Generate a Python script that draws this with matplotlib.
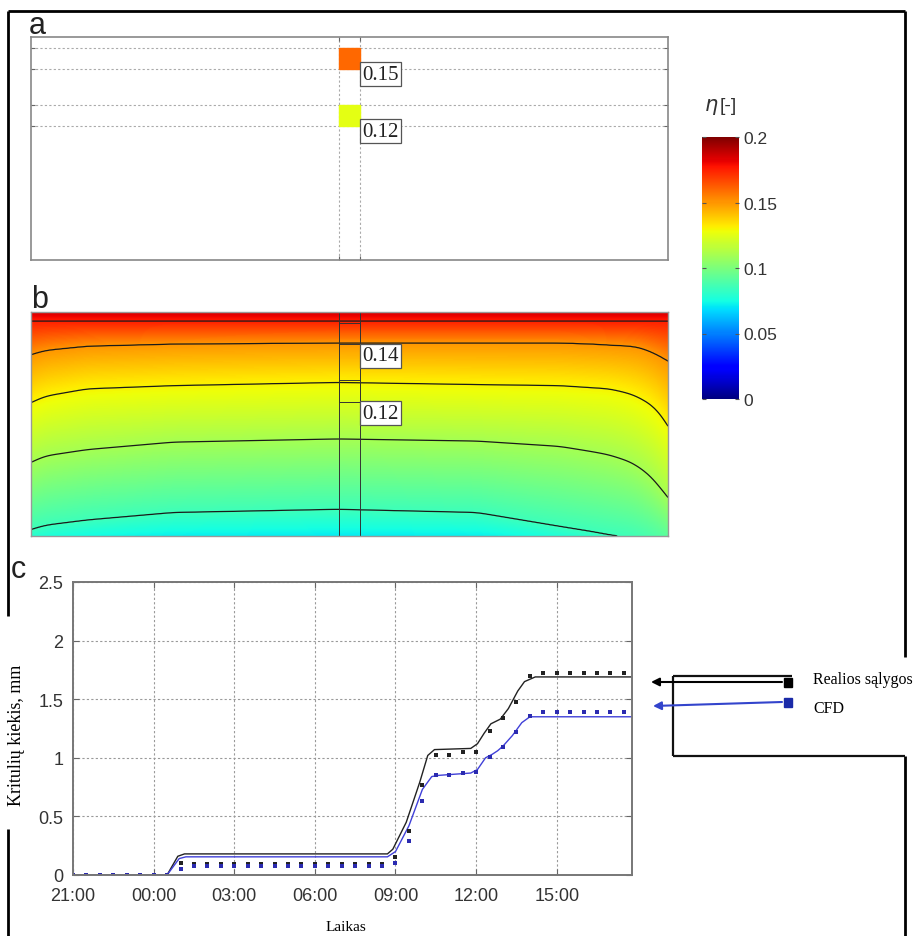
import numpy as np
import matplotlib
matplotlib.use('Agg')
import matplotlib.pyplot as plt
from matplotlib.patches import Rectangle
from matplotlib.colors import Normalize
from matplotlib.cm import ScalarMappable

# ---- panel a / b : probes ----
PROBE_X = (2.9, 3.1)
PROBE_Y = [(1.80, 2.00), (1.26, 1.46)]
PROBE_A_VALUES = [0.16, 0.125]
PROBE_A_LABELS = ['0.15', '0.12']
PROBE_B_LABELS = ['0.14', '0.12']

# ---- panel b : contour lines (height of each level at X_COLS) ----
X_COLS = [0, 0.13, 0.53, 1.34, 2.89, 4.2, 4.98, 5.29, 5.45, 5.66, 5.76, 5.83, 5.92, 6.0]
LEVELS = [0.175, 0.15, 0.13, 0.11, 0.085]
H_L1 = [2.015] * 14
H_L2 = [1.70, 1.74, 1.78, 1.80, 1.81, 1.81, 1.81, 1.80, 1.79, 1.78, 1.76, 1.73, 1.69, 1.64]
H_L3 = [1.25, 1.31, 1.38, 1.41, 1.44, 1.42, 1.41, 1.39, 1.38, 1.33, 1.28, 1.24, 1.16, 1.03]
H_L4 = [0.69, 0.75, 0.81, 0.88, 0.91, 0.89, 0.84, 0.79, 0.76, 0.69, 0.62, 0.57, 0.46, 0.36]
H_L5 = [0.06, 0.10, 0.15, 0.22, 0.25, 0.22, 0.09, 0.04, 0.01, -0.02, -0.06, -0.09, -0.12, -0.16]
ETA_TOP = 0.185
ETA_BELOW = (-0.3, 0.055)

# ---- panel c : precipitation ----
line_t_real = [0, 3.5, 3.9, 4.15, 11.7, 11.9, 12.4, 12.9, 13.2, 13.45, 14.8, 15.05, 15.3, 15.55,
               15.9, 16.2, 16.55, 16.8, 17.2, 20.8]
line_real = [0, 0, 0.16, 0.18, 0.18, 0.22, 0.45, 0.79, 1.02, 1.07, 1.08, 1.12, 1.21, 1.29,
             1.33, 1.42, 1.57, 1.65, 1.69, 1.69]
line_t_cfd = [0, 3.5, 3.95, 4.2, 11.7, 12.0, 12.5, 13.0, 13.35, 13.6, 14.8, 15.05, 15.35, 15.6,
              15.8, 16.0, 16.35, 16.7, 17.0, 20.8]
line_cfd = [0, 0, 0.14, 0.155, 0.155, 0.2, 0.42, 0.73, 0.84, 0.85, 0.87, 0.90, 1.0, 1.03,
            1.06, 1.10, 1.19, 1.30, 1.35, 1.35]
dots_t = [0, 0.5, 1, 1.5, 2, 2.5, 3, 3.5, 4, 4.5, 5, 5.5, 6, 6.5, 7, 7.5, 8, 8.5, 9, 9.5, 10,
          10.5, 11, 11.5, 12, 12.5, 13, 13.5, 14, 14.5, 15, 15.5, 16, 16.5, 17, 17.5, 18, 18.5,
          19, 19.5, 20, 20.5]
dots_real = [0, 0, 0, 0, 0, 0, 0, 0, 0.10, 0.09, 0.09, 0.09, 0.09, 0.09, 0.09, 0.09, 0.09, 0.09,
             0.09, 0.09, 0.09, 0.09, 0.09, 0.09, 0.15, 0.375, 0.77, 1.02, 1.02, 1.05, 1.05, 1.23,
             1.34, 1.48, 1.70, 1.72, 1.72, 1.72, 1.72, 1.72, 1.72, 1.72]
dots_cfd = [0, 0, 0, 0, 0, 0, 0, 0, 0.05, 0.08, 0.08, 0.08, 0.08, 0.08, 0.08, 0.08, 0.08, 0.08,
            0.08, 0.08, 0.08, 0.08, 0.08, 0.08, 0.10, 0.29, 0.63, 0.85, 0.85, 0.87, 0.88, 1.01,
            1.09, 1.22, 1.36, 1.39, 1.39, 1.39, 1.39, 1.39, 1.39, 1.39]
x_ticks = [0, 3, 6, 9, 12, 15, 18]
x_tick_labels = ['21:00', '00:00', '03:00', '06:00', '09:00', '12:00', '15:00']
y_ticks = [0, 0.5, 1, 1.5, 2, 2.5]
y_tick_labels = ['0', '0.5', '1', '1.5', '2', '2.5']

W, H = 914, 937
SANS = ['Liberation Sans', 'DejaVu Sans']
SERIF = ['Liberation Serif', 'DejaVu Serif']
GRAY_TXT = '#333333'
cmap = plt.get_cmap('jet')
norm = Normalize(0, 0.2)


def rect(x0, y0, x1, y1):
    return [x0 / W, 1 - y1 / H, (x1 - x0) / W, (y1 - y0) / H]


def smooth(a, n=6):
    # soften the kinks between the read-off columns
    k = np.exp(-0.5 * (np.arange(-2 * n, 2 * n + 1) / n) ** 2)
    k /= k.sum()
    pad = np.pad(a, 2 * n, mode='reflect', reflect_type='odd')
    return np.convolve(pad, k, mode='same')[2 * n:-2 * n]


fig = plt.figure(figsize=(W / 100, H / 100), dpi=100)

# overlay for frame, arrows, free text (pixel coordinates)
ov = fig.add_axes([0, 0, 1, 1], zorder=5)
ov.set_xlim(0, W)
ov.set_ylim(H, 0)
ov.axis('off')
ov.patch.set_alpha(0)
frame_kw = dict(color='black', lw=2, solid_capstyle='butt')
ov.plot([8, 905], [12, 12], **frame_kw)
ov.plot([8, 8], [12, 617], **frame_kw)
ov.plot([8, 8], [830, 937], **frame_kw)
ov.plot([905, 905], [12, 658], **frame_kw)
ov.plot([905, 905], [757, 937], **frame_kw)
box_kw = dict(color='#111111', lw=1.6, solid_capstyle='butt')
ov.plot([673, 792], [677, 677], **box_kw)
ov.plot([673, 673], [677, 757], **box_kw)
ov.plot([673, 905], [757, 757], **box_kw)

ov.text(29, 34, 'a', fontsize=22, family=SANS, color='#222222')
ov.text(31, 308, 'b', fontsize=22, family=SANS, color='#222222')
ov.text(11, 578, 'c', fontsize=22, family=SANS, color='#222222')

# ---- panel a ----
ax_a = fig.add_axes(rect(31, 38, 668, 261))
ax_a.set_xlim(0, 6)
ax_a.set_ylim(0, 2.1)
ax_a.set_xticks(list(PROBE_X))
ax_a.set_yticks([v for pair in PROBE_Y for v in pair])
ax_a.set_xticklabels([])
ax_a.set_yticklabels([])
ax_a.tick_params(direction='in', length=3, color='#666666', top=True, right=True)
ax_a.grid(True, color='#aaaaaa', lw=0.8, linestyle=(0, (2, 2)))
for s in ax_a.spines.values():
    s.set_color('#888888')
    s.set_linewidth(1.2)
for (y0, y1), val, lab in zip(PROBE_Y, PROBE_A_VALUES, PROBE_A_LABELS):
    ax_a.add_patch(Rectangle((PROBE_X[0], y0), PROBE_X[1] - PROBE_X[0], y1 - y0,
                             color=cmap(norm(val)), zorder=3))
    ax_a.text(PROBE_X[1] + 0.02, y0 + 0.04, lab, ha='left', va='top', fontsize=15,
              family=SERIF, color='#222222', zorder=4,
              bbox=dict(boxstyle='square,pad=0.12', fc='white', ec='#555555', lw=0.9))

# ---- panel b ----
ax_b = fig.add_axes(rect(31, 313, 668, 537))
xs = np.linspace(0, 6, 601)
ys = np.linspace(0, 2.1, 301)
curves = [smooth(np.interp(xs, X_COLS, h)) for h in (H_L1, H_L2, H_L3, H_L4, H_L5)]
field = np.zeros((len(ys), len(xs)))
for j in range(len(xs)):
    hts = [2.1] + [c[j] for c in curves] + [ETA_BELOW[0]]
    vals = [ETA_TOP] + LEVELS + [ETA_BELOW[1]]
    field[:, j] = np.interp(ys, hts[::-1], vals[::-1])
ax_b.imshow(field, origin='lower', extent=[0, 6, 0, 2.1], cmap=cmap, norm=norm,
            aspect='auto', interpolation='bilinear')
ax_b.contour(xs, ys, field, levels=sorted(LEVELS), colors='#1a1a1a', linewidths=0.9)
ax_b.set_xlim(0, 6)
ax_b.set_ylim(0, 2.1)
ax_b.set_xticks([])
ax_b.set_yticks([])
for s in ax_b.spines.values():
    s.set_color('#999999')
    s.set_linewidth(1.0)
for xv in PROBE_X:
    ax_b.axvline(xv, color='#333333', lw=0.7)
for (y0, y1), lab in zip(PROBE_Y, PROBE_B_LABELS):
    ax_b.add_patch(Rectangle((PROBE_X[0], y0), PROBE_X[1] - PROBE_X[0], y1 - y0,
                             fill=False, ec='#333333', lw=0.7))
    ax_b.text(PROBE_X[1] + 0.02, y0 - 0.02, lab, ha='left', va='top', fontsize=15,
              family=SERIF, color='#222222', zorder=4,
              bbox=dict(boxstyle='square,pad=0.12', fc='white', ec='#555555', lw=0.9))

# ---- colorbar ----
cax = fig.add_axes(rect(702, 138, 739, 400))
cb = fig.colorbar(ScalarMappable(norm=norm, cmap=cmap), cax=cax)
cb.set_ticks([0, 0.05, 0.1, 0.15, 0.2])
cb.set_ticklabels(['0', '0.05', '0.1', '0.15', '0.2'])
cb.outline.set_linewidth(0)
cax.tick_params(direction='in', length=3, color='#555555', labelsize=12.5,
                labelcolor=GRAY_TXT, left=True)
for t in cax.get_yticklabels():
    t.set_fontfamily(SANS)
ov.text(704, 111, r'$\eta$', fontsize=15, color=GRAY_TXT)
ov.text(720, 111, '[-]', fontsize=14, family=SANS, color=GRAY_TXT)

# ---- panel c ----
ax_c = fig.add_axes(rect(73, 583, 632, 876))
ax_c.plot(line_t_real, line_real, color='#222222', lw=1.0)
ax_c.plot(line_t_cfd, line_cfd, color='#4040d8', lw=1.0)
ax_c.plot(dots_t, dots_real, 's', color='#222222', ms=2.6, mew=0)
ax_c.plot(dots_t, dots_cfd, 's', color='#2b2bb0', ms=2.6, mew=0)
ax_c.set_xlim(0, 20.8)
ax_c.set_ylim(0, 2.5)
ax_c.set_xticks(x_ticks)
ax_c.set_xticklabels(x_tick_labels)
ax_c.set_yticks(y_ticks)
ax_c.set_yticklabels(y_tick_labels)
ax_c.grid(True, color='#999999', lw=0.8, linestyle=(0, (2, 2)))
ax_c.tick_params(direction='in', length=4, color='#666666', top=True, right=True,
                 labelsize=13, labelcolor=GRAY_TXT)
ax_c.tick_params(axis='x', pad=9)
ax_c.tick_params(axis='y', pad=7)
for t in ax_c.get_xticklabels() + ax_c.get_yticklabels():
    t.set_fontfamily(SANS)
for s in ax_c.spines.values():
    s.set_color('#777777')
    s.set_linewidth(1.4)

ov.text(17, 735, 'Kritulių kiekis, mm', rotation=90, ha='center', va='center',
        fontsize=13, family=SERIF, color='black')
ov.text(346, 928, 'Laikas', ha='center', va='center', fontsize=11, family=SERIF, color='black')

# legend with arrows
ov.annotate('', xy=(651, 683), xytext=(782, 683),
            arrowprops=dict(arrowstyle='-|>', color='black', lw=1.5, mutation_scale=12,
                            shrinkA=0, shrinkB=0))
ov.annotate('', xy=(653, 707), xytext=(782, 703),
            arrowprops=dict(arrowstyle='-|>', color='#3344cc', lw=1.5, mutation_scale=12,
                            shrinkA=0, shrinkB=0))
ov.add_patch(Rectangle((784, 679), 8, 9, color='black'))
ov.add_patch(Rectangle((784, 699), 8, 9, color='#1a2aa8'))
ov.text(813, 680, 'Realios sąlygos', ha='left', va='center', fontsize=11.5, family=SERIF)
ov.text(813, 709, 'CFD', ha='left', va='center', fontsize=11.5, family=SERIF)

fig.savefig('out.png', dpi=100)
